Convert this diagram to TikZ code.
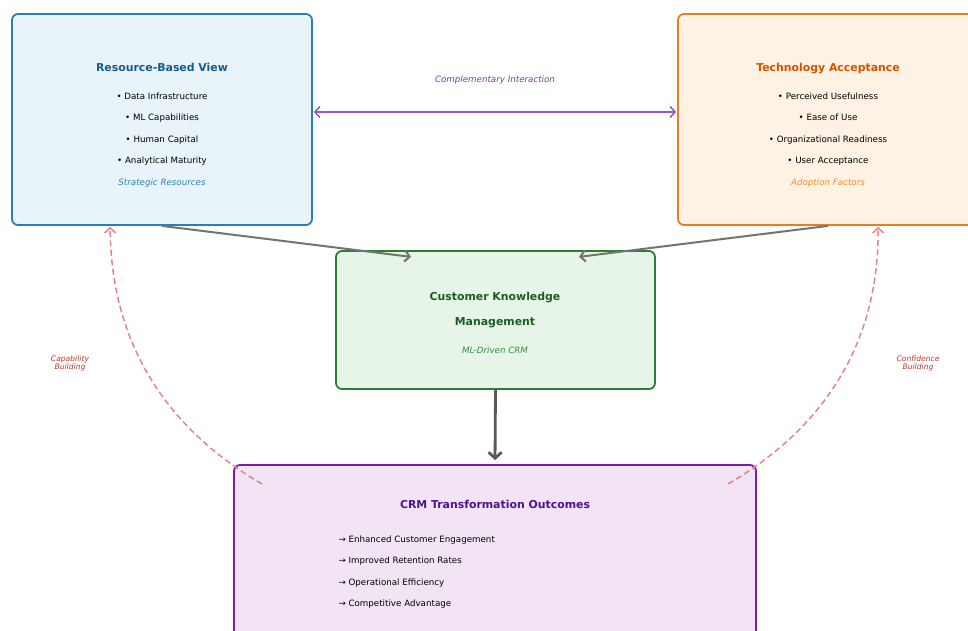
\documentclass[tikz,border=0pt]{standalone}
\usepackage{fontspec}
\setmainfont{DejaVu Sans}
\usetikzlibrary{arrows.meta,calc,positioning}
\definecolor{rbvline}{HTML}{2980B9}
\definecolor{rbvfill}{HTML}{E8F4FA}
\definecolor{rbvtext}{HTML}{1A5A8A}
\definecolor{rbvnote}{HTML}{2E86AB}
\definecolor{taline}{HTML}{E67E22}
\definecolor{tafill}{HTML}{FEF2E4}
\definecolor{tatext}{HTML}{D35400}
\definecolor{tanote}{HTML}{E8902E}
\definecolor{ckmline}{HTML}{2E7D32}
\definecolor{ckmfill}{HTML}{E7F4E8}
\definecolor{ckmtext}{HTML}{1B5E20}
\definecolor{ckmnote}{HTML}{388E3C}
\definecolor{crmline}{HTML}{7B1FA2}
\definecolor{crmfill}{HTML}{F2E4F5}
\definecolor{crmtext}{HTML}{4A148C}
\definecolor{linkpurple}{HTML}{9B59B6}
\definecolor{linklabel}{HTML}{7D3C98}
\definecolor{loopred}{HTML}{E38585}
\definecolor{looplabel}{HTML}{C0392B}

\begin{document}
\begin{tikzpicture}[x=1pt, y=-1pt, shorten >=1pt, >={Straight Barb[length=5pt,width=11pt]}]
   \useasboundingbox (0,0) rectangle (968,630);
   \begin{scope}[every node/.style={rectangle,rounded corners=6pt,line width=1.8pt}]
    \node (rbv) [draw=rbvline, fill=rbvfill, minimum width=300pt, minimum height=211pt] at (162,119.5) {};
    \node (ta) [draw=taline, fill=tafill, minimum width=300pt, minimum height=211pt] at (828,119.5) {};
    \node (ckm) [draw=ckmline, fill=ckmfill, minimum width=319pt, minimum height=138pt] at (495.5,320) {};
    \node (crm) [draw=crmline, fill=crmfill, minimum width=522pt, minimum height=180pt] at (495,555) {};
   \end{scope}
   \begin{scope}[every node/.style={font=\fontsize{8.7}{10}\selectfont, text height=1.55ex, text depth=.45ex}]
    \node (rbvt) [font=\bfseries\fontsize{10.9}{12}\selectfont, text=rbvtext] at (162,68) {Resource-Based View};
    \node (rbv1) at (162,96) {• Data Infrastructure};
    \node (rbv2) at (162,117.5) {• ML Capabilities};
    \node (rbv3) at (162,139) {• Human Capital};
    \node (rbv4) at (162,160.5) {• Analytical Maturity};
    \node (rbvn) [font=\itshape\fontsize{8.7}{10}\selectfont, text=rbvnote] at (162,182) {Strategic Resources};
    \node (tat) [font=\bfseries\fontsize{10.9}{12}\selectfont, text=tatext] at (828,68) {Technology Acceptance};
    \node (ta1) at (828,96) {• Perceived Usefulness};
    \node (ta2) at (828,117.5) {• Ease of Use};
    \node (ta3) at (828,139) {• Organizational Readiness};
    \node (ta4) at (828,160.5) {• User Acceptance};
    \node (tan) [font=\itshape\fontsize{8.7}{10}\selectfont, text=tanote] at (828,182) {Adoption Factors};
    \node (ckmt1) [font=\bfseries\fontsize{10.9}{12}\selectfont, text=ckmtext] at (495,297) {Customer Knowledge};
    \node (ckmt2) [font=\bfseries\fontsize{10.9}{12}\selectfont, text=ckmtext] at (495,322) {Management};
    \node (ckmn) [font=\itshape\fontsize{8.7}{10}\selectfont, text=ckmnote] at (495,350) {ML-Driven CRM};
    \node (crmt) [font=\bfseries\fontsize{10.9}{12}\selectfont, text=crmtext] at (495,505) {CRM Transformation Outcomes};
    \node (crm1) [anchor=west] at (335,539) {→ Enhanced Customer Engagement};
    \node (crm2) [anchor=west] at (335,560.5) {→ Improved Retention Rates};
    \node (crm3) [anchor=west] at (335,582) {→ Operational Efficiency};
    \node (crm4) [anchor=west] at (335,603.5) {→ Competitive Advantage};
    \node (link) [font=\itshape\fontsize{8.7}{10}\selectfont, text=linklabel] at (495,79) {Complementary Interaction};
    \node (cap) [font=\itshape\fontsize{7.6}{8}\selectfont, text=looplabel, align=center, text height=, text depth=] at (70,363) {Capability\\Building};
    \node (conf) [font=\itshape\fontsize{7.6}{8}\selectfont, text=looplabel, align=center, text height=, text depth=] at (918,363) {Confidence\\Building};
   \end{scope}
   % connector ends
   \coordinate (ckmleft) at (412,257);
   \coordinate (ckmright) at (578,257);
   \coordinate (capfoot) at (262,484);
   \coordinate (conffoot) at (728,484);
   \coordinate (caphead) at ($(rbv.south west)+(99,0)$);
   \coordinate (confhead) at ($(ta.south west)+(201,0)$);
   \begin{scope}[->]
    \draw [<->, linkpurple, line width=1.5pt, shorten <=1pt] ([yshift=7.5pt]rbv.east) -- ([yshift=7.5pt]ta.west);
    \draw [black!55, line width=2pt] (rbv.south) -- (ckmleft);
    \draw [black!55, line width=2pt] (ta.south) -- (ckmright);
    \draw [black!65, line width=2.8pt, shorten >=4pt, -{Straight Barb[length=6pt,width=13pt]}] (ckm.south) -- (crm.north);
    \draw [loopred, line width=1.5pt, dash pattern=on 6pt off 3.5pt] (capfoot) .. controls (161,425) and (111,338) .. (caphead);
    \draw [loopred, line width=1.5pt, dash pattern=on 6pt off 3.5pt] (conffoot) .. controls (829,425) and (879,338) .. (confhead);
   \end{scope}
\end{tikzpicture}
\end{document}
